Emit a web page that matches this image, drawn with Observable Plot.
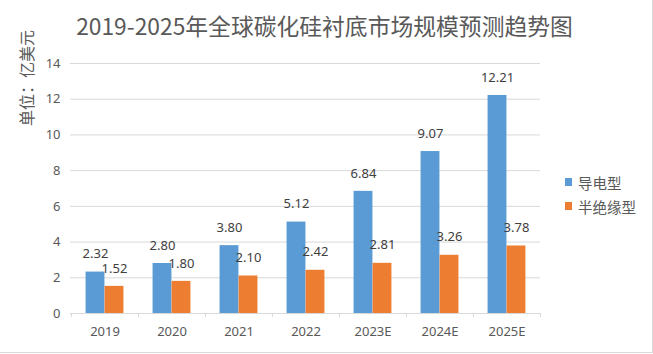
<!DOCTYPE html>
<html>
<head>
<meta charset="utf-8">
<script src="https://cdn.jsdelivr.net/npm/d3@7"></script>
<script src="https://cdn.jsdelivr.net/npm/@observablehq/plot@0.6"></script>
<style>
  html, body { margin: 0; padding: 0; background: #fff; }
  #wrap { position: relative; width: 653px; height: 354px; overflow: hidden; font-family: "Noto Sans", "Noto Sans CJK SC", sans-serif; }
  #border { position: absolute; left: 0; top: 0; width: 652px; height: 352px; border-right: 1px solid #d9d9d9; border-bottom: 1px solid #d9d9d9; box-sizing: content-box; pointer-events: none; }
  #title { position: absolute; left: 0; top: 11px; width: 649px; text-align: center; font-family: "Noto Sans CJK SC", sans-serif; font-size: 22.8px; line-height: 30px; color: #595959; }
  #ylabel { position: absolute; left: 26px; top: 78px; transform: translate(-50%, -50%) rotate(-90deg); white-space: nowrap; font-family: "Noto Sans CJK SC", sans-serif; font-size: 16px; line-height: 18px; color: #595959; }
  #legend { position: absolute; left: 565px; top: 170px; font-family: "Noto Sans CJK SC", sans-serif; font-size: 14.5px; color: #595959; }
  .li { display: flex; align-items: center; height: 24px; }
  .sw { width: 7px; height: 8px; margin-right: 6px; }
  #chart { position: absolute; left: 0; top: 0; }
</style>
</head>
<body>
<div id="wrap">
  <div id="chart"></div>
  <div id="title"></div>
  <div id="ylabel"></div>
  <div id="legend"></div>
  <div id="border"></div>
</div>
<script>
const titleText = "2019-2025年全球碳化硅衬底市场规模预测趋势图";
const yLabelText = "单位：亿美元";
const categories = ["2019", "2020", "2021", "2022", "2023E", "2024E", "2025E"];
const seriesNames = ["导电型", "半绝缘型"];
const conductive = [2.32, 2.80, 3.80, 5.12, 6.84, 9.07, 12.21];
const semiInsulating = [1.52, 1.80, 2.10, 2.42, 2.81, 3.26, 3.78];
const yTicks = [0, 2, 4, 6, 8, 10, 12, 14];
const colors = ["#5b9bd5", "#ed7d31"];

document.getElementById("title").textContent = titleText;
document.getElementById("ylabel").textContent = yLabelText;
const legend = document.getElementById("legend");
seriesNames.forEach((n, i) => {
  const row = document.createElement("div");
  row.className = "li";
  row.innerHTML = `<span class="sw" style="background:${colors[i]}"></span><span>${n}</span>`;
  legend.appendChild(row);
});

const data = [];
categories.forEach((c, i) => {
  data.push({category: c, series: seriesNames[0], value: conductive[i]});
  data.push({category: c, series: seriesNames[1], value: semiInsulating[i]});
});
const blue = data.filter(d => d.series === seriesNames[0]);
const orange = data.filter(d => d.series === seriesNames[1]);

const W = 653, H = 354, ML = 70, MR = 113, MT = 63, MB = 41;
const bw = (W - ML - MR) / categories.length;
const barW = 19;
const outer = (bw - 2 * barW) / 2;
const fontNum = "Noto Sans, sans-serif";

const plot = Plot.plot({
  width: W, height: H,
  marginLeft: ML, marginRight: MR, marginTop: MT, marginBottom: MB,
  style: {fontFamily: fontNum, fontSize: "13px", color: "#595959", background: "transparent"},
  x: {domain: categories, paddingInner: 0, paddingOuter: 0, label: null},
  y: {domain: [0, 14], ticks: yTicks, label: null},
  marks: [
    Plot.ruleY(yTicks.filter(t => t > 0), {stroke: "#d9d9d9", strokeWidth: 1}),
    Plot.barY(blue, {x: "category", y: "value", fill: colors[0], insetLeft: outer, insetRight: outer + barW}),
    Plot.barY(orange, {x: "category", y: "value", fill: colors[1], insetLeft: outer + barW, insetRight: outer}),
    Plot.ruleY([0], {stroke: "#d9d9d9", strokeWidth: 1}),
    Plot.ruleX(categories, {x: d => d, y1: 0, y2: 0, insetBottom: -4, dx: -bw / 2, stroke: "#d9d9d9"}),
    Plot.ruleX([categories[categories.length - 1]], {x: d => d, y1: 0, y2: 0, insetBottom: -4, dx: bw / 2, stroke: "#d9d9d9"}),
    Plot.text(blue, {x: "category", y: "value", text: d => d.value.toFixed(2), dx: -(barW / 2), dy: -18, fill: "#404040", fontSize: 13}),
    Plot.text(orange, {x: "category", y: "value", text: d => d.value.toFixed(2), dx: barW / 2, dy: -18, fill: "#404040", fontSize: 13}),
    Plot.axisY({ticks: yTicks, tickSize: 0, tickPadding: 10, fontSize: 13, label: null}),
    Plot.axisX({tickSize: 0, tickPadding: 13, fontSize: 13, label: null})
  ]
});
document.getElementById("chart").appendChild(plot);
</script>
</body>
</html>
